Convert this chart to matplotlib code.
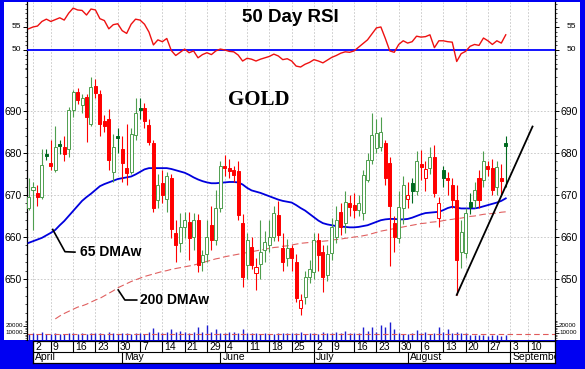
import numpy as np
import pandas as pd
import matplotlib
matplotlib.use("Agg")
import matplotlib.pyplot as plt
from matplotlib.patches import Rectangle
from matplotlib.transforms import blended_transform_factory as blend

plt.rcParams['font.family'] = ['Liberation Sans', 'DejaVu Sans']

# ---------------- data ----------------
holidays = ['2007-04-06', '2007-05-28', '2007-07-04', '2007-09-03']
cal = pd.bdate_range('2007-03-30', '2007-09-28')
cal = cal[~cal.isin(pd.to_datetime(holidays))]
N_DAYS = 108
dates = cal[:N_DAYS]

opens = [667.0, 671.3, 670.5, 669.5, 679.8, 677.7, 676.0, 682.2, 681.5, 681.0,
         690.2, 694.5, 691.5, 693.4, 687.0, 696.0, 694.0, 687.5, 688.0, 675.5,
         684.0, 681.0, 676.5, 675.5, 684.3, 690.8, 690.7, 686.7, 682.3, 668.8,
         672.8, 669.0, 674.0, 661.0, 658.5, 662.5, 663.6, 660.0, 664.0, 654.1,
         656.0, 662.9, 659.3, 667.0, 677.0, 676.5, 676.0, 675.6, 663.3, 653.3,
         657.7, 651.4, 653.5, 656.9, 658.1, 660.0, 665.2, 657.3, 655.0, 657.3,
         654.1, 643.0, 645.8, 650.5, 651.7, 659.3, 656.5, 651.0, 656.1, 660.0,
         666.0, 663.3, 668.1, 667.6, 666.5, 665.6, 673.6, 678.3, 681.1, 681.5,
         682.3, 677.6, 663.3, 659.7, 667.0, 669.0, 672.8, 671.0, 677.4, 674.0,
         676.5, 679.0, 664.5, 676.0, 674.0, 672.5, 668.8, 656.5, 656.1, 668.4,
         668.8, 674.0, 673.6, 677.0, 676.4, 672.0, 674.0, 682.3]
highs = [674.0, 673.0, 672.4, 681.0, 681.0, 683.0, 686.5, 683.2, 684.0, 691.0,
         695.0, 695.5, 694.0, 694.0, 698.0, 697.5, 695.0, 689.0, 690.5, 684.5,
         686.0, 684.0, 687.0, 686.0, 693.0, 693.0, 692.0, 688.0, 683.0, 675.0,
         676.0, 675.5, 675.0, 664.0, 665.6, 666.0, 666.0, 665.6, 665.5, 657.0,
         664.0, 667.5, 671.2, 678.0, 679.5, 678.5, 677.0, 678.0, 665.5, 661.0,
         660.0, 655.0, 664.0, 661.5, 664.0, 667.5, 668.5, 661.0, 659.5, 658.0,
         656.0, 646.5, 652.0, 654.5, 661.0, 661.0, 658.0, 658.0, 664.5, 667.5,
         668.0, 671.0, 670.0, 670.5, 670.0, 676.0, 680.0, 689.5, 688.0, 688.5,
         683.0, 679.0, 665.0, 671.0, 674.5, 673.0, 674.0, 680.5, 680.7, 678.0,
         681.5, 682.0, 669.5, 677.0, 675.5, 674.0, 672.5, 664.0, 667.0, 670.5,
         673.0, 676.0, 680.5, 678.0, 678.5, 678.0, 677.5, 684.0]
lows = [666.4, 661.7, 667.5, 669.0, 678.3, 676.0, 675.5, 679.7, 678.0, 679.0,
        688.5, 691.7, 689.5, 682.7, 686.5, 693.0, 684.0, 685.0, 676.0, 673.0,
        680.0, 673.0, 672.5, 675.0, 683.0, 688.0, 686.0, 682.0, 666.0, 667.0,
        668.0, 666.0, 659.8, 654.0, 656.5, 659.8, 654.5, 657.0, 651.7, 652.0,
        654.0, 657.0, 658.0, 666.0, 674.5, 674.0, 673.0, 664.0, 648.0, 650.0,
        652.5, 647.4, 650.0, 654.0, 656.5, 659.0, 659.0, 652.0, 653.0, 652.0,
        644.5, 641.4, 644.0, 649.0, 650.0, 652.0, 647.0, 649.5, 654.5, 658.5,
        660.5, 661.0, 665.0, 664.5, 665.0, 664.0, 673.0, 677.5, 680.0, 680.5,
        672.5, 653.0, 656.5, 658.5, 663.0, 667.0, 668.0, 670.0, 673.6, 671.0,
        675.0, 669.5, 662.5, 672.0, 670.0, 667.0, 646.2, 652.6, 655.0, 665.5,
        667.0, 667.0, 672.0, 674.5, 670.0, 670.0, 670.0, 672.0]
closes = [669.5, 671.8, 669.5, 677.2, 679.3, 676.8, 681.5, 681.7, 679.8, 690.2,
          694.5, 692.5, 693.0, 688.5, 695.8, 694.2, 687.0, 686.5, 678.3, 681.5,
          683.5, 677.6, 675.2, 684.5, 689.5, 690.2, 687.5, 682.7, 667.0, 672.4,
          670.0, 674.5, 662.0, 658.0, 662.5, 664.0, 659.7, 664.0, 653.3, 655.7,
          660.0, 659.3, 666.9, 677.0, 676.4, 675.6, 674.8, 665.2, 650.5, 659.3,
          653.3, 652.9, 656.5, 658.9, 660.0, 665.6, 660.5, 654.1, 657.3, 655.0,
          645.4, 645.0, 650.5, 652.5, 659.3, 655.7, 650.5, 656.0, 662.4, 664.0,
          662.5, 668.4, 667.2, 666.4, 668.0, 674.8, 678.3, 684.3, 684.7, 685.0,
          674.0, 667.5, 660.0, 667.2, 672.5, 670.0, 671.0, 678.0, 676.7, 676.3,
          679.0, 670.5, 668.0, 674.0, 673.5, 668.8, 654.5, 661.3, 665.6, 667.2,
          671.2, 668.8, 678.0, 676.1, 671.2, 676.7, 673.4, 681.7]

volume = [9000, 9500, 8000, 11500, 8500, 9000, 9500, 8500, 9000, 9500,
          10000, 9000, 9500, 8500, 10000, 10500, 10500, 9000, 11000, 9500,
          9000, 9500, 10000, 9000, 9500, 10500, 9000, 11000, 16500, 11500,
          10000, 11500, 15000, 11000, 13500, 11000, 10500, 12000, 19000, 12000,
          21500, 11000, 16000, 10500, 9500, 11000, 12000, 10500, 15500, 10500,
          9500, 10000, 9000, 9500, 8500, 9000, 10000, 9500, 10000, 10500,
          9500, 11000, 9000, 9500, 10000, 9000, 11000, 10000, 9500, 11000,
          10500, 13000, 10000, 10500, 9500, 18000, 13000, 18000, 12000, 21500,
          19000, 26000, 15000, 10000, 9000, 8500, 9500, 14000, 10000, 11000,
          9000, 10500, 19000, 11000, 15500, 10000, 11000, 9500, 10000, 7000,
          7500, 6500, 7000, 6000, 6500, 7000, 6000, 6500]
vol_avg = 9000

rsi50 = [54.6, 55.0, 55.2, 56.2, 56.7, 56.2, 56.6, 57.0, 56.5, 58.0,
         59.1, 58.7, 58.6, 57.6, 58.9, 58.7, 56.8, 56.4, 54.6, 55.5,
         55.7, 54.2, 53.6, 55.6, 56.7, 56.5, 55.6, 53.9, 51.1, 52.2,
         51.8, 52.5, 49.9, 48.8, 49.5, 50.2, 49.4, 49.8, 48.3, 49.0,
         49.4, 49.0, 49.8, 50.2, 50.0, 49.7, 49.6, 48.9, 47.6, 48.2,
         48.0, 47.6, 48.0, 48.3, 48.6, 49.1, 48.7, 47.9, 48.1, 47.6,
         46.5, 46.3, 46.9, 47.3, 47.9, 47.6, 47.2, 47.8, 48.4, 48.8,
         49.3, 49.6, 49.5, 49.8, 50.6, 51.4, 52.2, 53.5, 54.8, 55.0,
         52.5, 49.8, 49.5, 51.2, 52.0, 51.5, 51.8, 53.0, 52.8, 52.9,
         53.3, 50.5, 52.0, 52.0, 51.8, 51.7, 47.5, 49.2, 49.7, 50.8,
         51.2, 51.0, 52.6, 52.0, 51.2, 52.0, 51.5, 53.3]

dma65 = [658.6, 659.0, 659.4, 659.8, 660.4, 661.0, 661.7, 662.8, 663.8, 665.0,
         666.2, 667.4, 668.6, 669.5, 670.3, 671.2, 672.1, 672.6, 673.0, 673.4,
         673.8, 674.0, 674.2, 674.4, 674.9, 675.5, 676.1, 676.4, 676.4, 676.4,
         676.4, 676.4, 676.2, 675.9, 675.6, 675.3, 674.8, 674.2, 673.7, 673.3,
         673.0, 672.8, 672.8, 672.9, 673.0, 673.1, 673.1, 673.0, 672.5, 671.7,
         671.1, 670.8, 670.5, 670.1, 669.7, 669.3, 668.9, 668.6, 668.4, 668.2,
         667.6, 666.9, 666.3, 665.5, 664.7, 663.9, 663.3, 663.0, 662.8, 662.6,
         662.5, 662.4, 662.3, 662.3, 662.4, 662.6, 662.8, 663.2, 663.6, 664.0,
         664.2, 664.3, 664.3, 664.2, 664.2, 664.3, 664.6, 665.0, 665.4, 665.7,
         665.8, 665.9, 666.0, 666.4, 666.9, 667.2, 667.0, 666.8, 666.8, 666.8,
         666.8, 667.0, 667.3, 667.6, 667.9, 668.2, 668.6, 669.2]

dma200_start = 6
dma200 = [640.5, 641.2, 641.8, 642.3, 642.8, 643.3, 643.6, 644.0, 644.5, 645.0,
          645.4, 646.0, 646.6, 647.2, 647.9, 648.4, 648.9, 649.4, 649.8, 650.2,
          650.6, 650.9, 651.2, 651.5, 651.8, 652.0, 652.3, 652.5, 652.7, 652.9,
          653.1, 653.3, 653.6, 653.9, 654.2, 654.5, 654.8, 655.0, 655.3, 655.5,
          655.7, 655.9, 656.1, 656.3, 656.5, 656.7, 656.9, 657.1, 657.3, 657.5,
          657.6, 657.8, 657.9, 658.1, 658.3, 658.5, 658.6, 658.7, 658.8, 658.9,
          659.0, 659.1, 659.3, 659.4, 659.5, 659.7, 659.8, 660.0, 660.1, 660.3,
          660.5, 660.8, 661.1, 661.4, 661.6, 661.8, 662.0, 662.2, 662.4, 662.6,
          662.8, 663.0, 663.2, 663.3, 663.5, 663.6, 663.7, 663.9, 664.1, 664.2,
          664.4, 664.5, 664.7, 664.9, 665.0, 665.2, 665.4, 665.5, 665.6, 665.7,
          665.9, 666.0]

trend_dates = ['2007-08-16', '2007-09-11']
trend_values = [646.2, 686.3]

price_ticks = [650, 660, 670, 680, 690]
rsi_ticks = [50, 55]
vol_ticks = [10000, 20000]

week_dates = ['2007-04-02', '2007-04-09', '2007-04-16', '2007-04-23', '2007-04-30',
              '2007-05-07', '2007-05-14', '2007-05-21', '2007-05-29', '2007-06-04',
              '2007-06-11', '2007-06-18', '2007-06-25', '2007-07-02', '2007-07-09',
              '2007-07-16', '2007-07-23', '2007-07-30', '2007-08-06', '2007-08-13',
              '2007-08-20', '2007-08-27', '2007-09-03', '2007-09-10']
week_labels = ['2', '9', '16', '23', '30', '7', '14', '21', '29', '4', '11', '18',
               '25', '2', '9', '16', '23', '30', '6', '13', '20', '27', '3', '10']
month_dates = ['2007-04-02', '2007-05-01', '2007-06-01', '2007-07-02', '2007-08-01',
               '2007-09-03']
month_labels = ['April', 'May', 'June', 'July', 'August', 'September']

# ---------------- layout ----------------
W, H = 585, 369
fig = plt.figure(figsize=(W / 100, H / 100), dpi=100)
BLUE = '#0000f2'
fig.patch.set_facecolor(BLUE)


def rect(x0, y0, x1, y1):
    return [x0 / W, 1 - y1 / H, (x1 - x0) / W, (y1 - y0) / H]


# white panel (background axes)
ax_bg = fig.add_axes(rect(4, 2, 580, 340), zorder=-5)
ax_bg.set_facecolor('white')
ax_bg.set_xticks([])
ax_bg.set_yticks([])
for s in ax_bg.spines.values():
    s.set_visible(False)

pos_of = lambda d: int(cal.searchsorted(pd.Timestamp(d)))
x = np.arange(N_DAYS)
XL = (-0.345, 118.04)

ax_vol = fig.add_axes(rect(27, 2, 555, 340), zorder=1)
ax_p = fig.add_axes(rect(27, 2, 555, 340), zorder=2)
ax_r = fig.add_axes(rect(27, 2, 555, 340), zorder=3)
for a in (ax_vol, ax_p, ax_r):
    a.set_xlim(*XL)
    a.patch.set_visible(False)
    a.set_xticks([])
    for s in a.spines.values():
        s.set_visible(False)

ax_p.set_ylim(635.48, 715.95)
ax_r.set_ylim(-13.04, 60.43)
ax_vol.set_ylim(0, 482857)

# grid
wpos = [pos_of(d) for d in week_dates]
for wp in wpos:
    ax_vol.axvline(wp, color='#c4c4c4', lw=0.6, ls=(0, (2, 2)), zorder=0)
for pt in price_ticks:
    ax_p.axhline(pt, color='#c4c4c4', lw=0.6, ls=(0, (2, 2)), zorder=0)

# spines for price axis
ax_p.spines['left'].set_visible(True)
ax_p.spines['right'].set_visible(True)
ax_p.spines['left'].set_linewidth(0.9)
ax_p.spines['right'].set_linewidth(0.9)

# price ticks
ax_p.set_yticks(price_ticks)
ax_p.set_yticks(np.arange(640, 702, 2), minor=True)
ax_p.tick_params(axis='y', which='both', direction='out', left=True, right=True,
                 labelleft=True, labelright=True, labelsize=7.5, pad=1)
ax_p.tick_params(axis='y', which='major', length=3, width=0.7)
ax_p.tick_params(axis='y', which='minor', length=1.5, width=0.5)

# rsi ticks (marks) + labels
ax_r.set_yticks(rsi_ticks)
ax_r.set_yticks(np.arange(46, 61, 1), minor=True)
ax_r.tick_params(axis='y', which='both', direction='out', left=True, right=True,
                 labelleft=False, labelright=False)
ax_r.tick_params(axis='y', which='major', length=3, width=0.7)
ax_r.tick_params(axis='y', which='minor', length=1.5, width=0.5)
tr_r = blend(fig.transFigure, ax_r.transData)
for v in rsi_ticks:
    ax_r.text(21 / W, v, str(v), transform=tr_r, ha='right', va='center', fontsize=6)
    ax_r.text(567 / W, v, str(v), transform=tr_r, ha='left', va='center', fontsize=6)

# volume ticks
ax_vol.set_yticks(vol_ticks)
ax_vol.set_yticks(np.arange(0, 26000, 2500), minor=True)
ax_vol.tick_params(axis='y', which='both', direction='out', left=True, right=True,
                   labelleft=False, labelright=False)
ax_vol.tick_params(axis='y', which='major', length=3, width=0.6)
ax_vol.tick_params(axis='y', which='minor', length=1.5, width=0.4)
tr_v = blend(fig.transFigure, ax_vol.transData)
for v in vol_ticks:
    ax_vol.text(23 / W, v, str(v), transform=tr_v, ha='right', va='center', fontsize=4.5)
    ax_vol.text(559 / W, v, str(v), transform=tr_v, ha='left', va='center', fontsize=4.5)

# volume bars
ax_vol.vlines(x, 0, volume, color='#1c1cd0', lw=1.0, zorder=2)
ax_vol.axhline(vol_avg, color='#e05a5a', lw=0.8, ls=(0, (5, 3)), zorder=3)

# RSI
ax_r.axhline(50, color='#0000ff', lw=1.3, zorder=3)
ax_r.plot(x, rsi50, color='#ee1111', lw=1.0, zorder=4)

# moving averages
ax_p.plot(x, dma65, color='#0000dd', lw=1.3, zorder=5)
ax_p.plot(x[dma200_start:], dma200, color='#e06060', lw=0.8, ls=(0, (6, 3)), zorder=2)

# candles
GREEN = '#4e9e4e'
DKGREEN = '#006a20'
RED = '#ff0000'
bw = 0.68
for i in range(N_DAYS):
    o, h, l, c = opens[i], highs[i], lows[i], closes[i]
    prev = closes[i - 1] if i > 0 else o
    up_vs_prev = c >= prev
    hollow = c > o
    if up_vs_prev:
        col = GREEN if hollow else DKGREEN
    else:
        col = RED
    ax_p.vlines(i, l, h, color=col, lw=0.8, zorder=6)
    bottom = min(o, c)
    height = max(abs(c - o), 0.3)
    ax_p.add_patch(Rectangle((i - bw / 2, bottom), bw, height,
                             facecolor='white' if hollow else col,
                             edgecolor=col, lw=0.7, zorder=7))

# trend line
tx = [pos_of(d) for d in trend_dates]
ax_p.plot(tx, trend_values, color='black', lw=1.3, zorder=8)

# annotations
ax_p.plot([5.42, 8.17, 10.4], [661.8, 656.5, 656.4], color='black', lw=1.2, zorder=8)
ax_p.text(11.5, 656.4, '65 DMAw', fontsize=10, fontweight='bold', va='center', ha='left', zorder=9)
ax_p.plot([20.1, 21.6, 24.25], [647.4, 645.0, 645.0], color='black', lw=1.2, zorder=8)
ax_p.text(25.0, 645.0, '200 DMAw', fontsize=10, fontweight='bold', va='center', ha='left', zorder=9)

ax_p.text(259 / W, 1 - 100 / H, 'GOLD', transform=fig.transFigure, fontsize=15,
          fontweight='bold', family=['Liberation Serif', 'DejaVu Serif'],
          ha='center', va='center', zorder=9)
ax_r.text(290 / W, 1 - 17 / H, '50 Day RSI', transform=fig.transFigure, fontsize=13.5,
          fontweight='bold', ha='center', va='center', zorder=9)

# date strip
ax_d = fig.add_axes(rect(33, 341, 555, 363))
ax_d.set_xlim(1.0, XL[1])
ax_d.set_ylim(0, 1)
ax_d.set_facecolor('white')
ax_d.set_xticks([])
ax_d.set_yticks([])
for s in ax_d.spines.values():
    s.set_linewidth(0.9)
ax_d.axhline(0.5, color='black', lw=0.8)
for wp, lab in zip(wpos, week_labels):
    ax_d.plot([wp, wp], [0.5, 1.0], color='black', lw=0.8)
    ax_d.text(wp + 0.45, 0.75, lab, fontsize=7.5, ha='left', va='center', clip_on=True)
for md, lab in zip(month_dates, month_labels):
    mp = pos_of(md)
    ax_d.plot([mp, mp], [0.0, 0.5], color='black', lw=0.8)
    ax_d.text(mp + 0.45, 0.25, lab, fontsize=7.5, ha='left', va='center', clip_on=True)

fig.savefig('out.png', dpi=100, facecolor=fig.get_facecolor())
